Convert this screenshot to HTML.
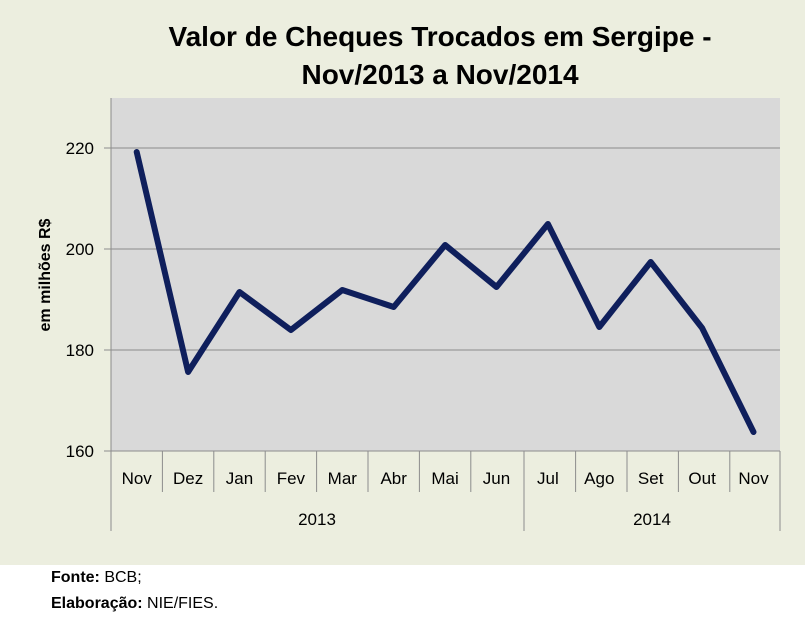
<!DOCTYPE html>
<html><head><meta charset="utf-8"><style>
html,body{margin:0;padding:0;background:#fff;}
svg{display:block;}
text{font-family:"Liberation Sans",sans-serif;}
</style></head><body>
<svg width="805" height="626" viewBox="0 0 805 626" xmlns="http://www.w3.org/2000/svg">
<rect x="0" y="0" width="805" height="565" fill="#ECEEDF"/>
<rect x="111" y="98" width="669" height="353" fill="#D9D9D9"/>
<g stroke="#8C8C8C" stroke-width="1">
<line x1="111" y1="148" x2="780" y2="148"/>
<line x1="111" y1="249" x2="780" y2="249"/>
<line x1="111" y1="350" x2="780" y2="350"/>
<line x1="104" y1="451" x2="780" y2="451"/>
<line x1="104" y1="148" x2="111" y2="148"/>
<line x1="104" y1="249" x2="111" y2="249"/>
<line x1="104" y1="350" x2="111" y2="350"/>
<line x1="111" y1="98" x2="111" y2="531"/>
<line x1="524" y1="451" x2="524" y2="531"/>
<line x1="780" y1="451" x2="780" y2="531"/>
<line x1="162.4" y1="451" x2="162.4" y2="492"/>
<line x1="213.8" y1="451" x2="213.8" y2="492"/>
<line x1="265.2" y1="451" x2="265.2" y2="492"/>
<line x1="316.6" y1="451" x2="316.6" y2="492"/>
<line x1="368" y1="451" x2="368" y2="492"/>
<line x1="419.4" y1="451" x2="419.4" y2="492"/>
<line x1="470.8" y1="451" x2="470.8" y2="492"/>
<line x1="575.6" y1="451" x2="575.6" y2="492"/>
<line x1="627" y1="451" x2="627" y2="492"/>
<line x1="678.4" y1="451" x2="678.4" y2="492"/>
<line x1="729.8" y1="451" x2="729.8" y2="492"/>
</g>
<polyline fill="none" stroke="#0F1F5C" stroke-width="6" stroke-linejoin="round" stroke-linecap="round"
points="136.7,152 188.1,372 239.5,292 290.9,330 342.3,290 393.7,307 445.1,245 496.5,287 547.9,224 599.3,327 650.7,262 702.1,328 753.5,432"/>
<g font-size="17" fill="#000" text-anchor="end">
<text x="94" y="154">220</text>
<text x="94" y="255">200</text>
<text x="94" y="356">180</text>
<text x="94" y="457">160</text>
</g>
<g font-size="17" fill="#000" text-anchor="middle">
<text x="136.7" y="484">Nov</text>
<text x="188.1" y="484">Dez</text>
<text x="239.5" y="484">Jan</text>
<text x="290.9" y="484">Fev</text>
<text x="342.3" y="484">Mar</text>
<text x="393.7" y="484">Abr</text>
<text x="445.1" y="484">Mai</text>
<text x="496.5" y="484">Jun</text>
<text x="547.9" y="484">Jul</text>
<text x="599.3" y="484">Ago</text>
<text x="650.7" y="484">Set</text>
<text x="702.1" y="484">Out</text>
<text x="753.5" y="484">Nov</text>
<text x="317" y="525">2013</text>
<text x="652" y="525">2014</text>
</g>
<text transform="translate(50,275) rotate(-90)" font-size="16" font-weight="bold" text-anchor="middle">em milhões R$</text>
<g font-size="28" font-weight="bold" text-anchor="middle">
<text x="440" y="46">Valor de Cheques Trocados em Sergipe -</text>
<text x="440" y="84">Nov/2013 a Nov/2014</text>
</g>
<g font-size="16">
<text x="51" y="582"><tspan font-weight="bold">Fonte:</tspan> BCB;</text>
<text x="51" y="608"><tspan font-weight="bold">Elaboração:</tspan> NIE/FIES.</text>
</g>
</svg>
</body></html>
